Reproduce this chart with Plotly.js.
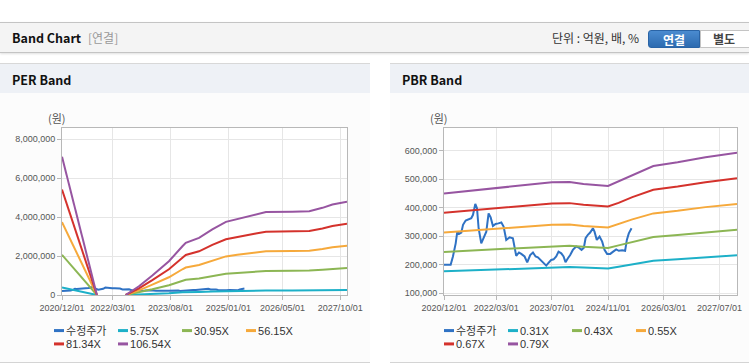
<!DOCTYPE html>
<html><head><meta charset="utf-8">
<script src="https://cdn.plot.ly/plotly-3.0.1.min.js"></script>
<style>
html,body{margin:0;padding:0;}
body{width:749px;height:364px;background:#fff;position:relative;overflow:hidden;font-family:"Noto Sans CJK KR","Noto Sans",sans-serif;}
.hdr{position:absolute;left:0;top:22px;width:749px;height:29px;background:#f4f4f4;border-top:1px solid #c4c4c4;border-bottom:1px solid #c4c4c4;box-shadow:0 1px 2px rgba(0,0,0,0.12);}
.hdr .t{position:absolute;left:12px;top:0;line-height:29px;font-size:12.5px;font-weight:bold;color:#111;}
.hdr .s{position:absolute;left:88px;top:0;line-height:29px;font-size:12px;color:#999;}
.hdr .u{position:absolute;left:552px;top:0;line-height:29px;font-size:12px;color:#333;}
.btn1{position:absolute;left:648px;top:7px;width:52px;height:18px;line-height:18px;text-align:center;font-size:12px;font-weight:bold;color:#fff;background:linear-gradient(#4a8bd0,#2d6bb0);border:1px solid #2a64a6;border-radius:3px 0 0 3px;box-sizing:border-box;}
.btn2{position:absolute;left:700px;top:7px;width:52px;height:18px;line-height:16px;text-align:center;font-size:12px;font-weight:bold;color:#444;background:#fff;border:1px solid #c4c4c4;box-sizing:border-box;padding-right:4px;}
.panel{position:absolute;top:63px;height:298px;background:#fcfcfc;border-top:1px solid #d8d8d8;border-bottom:1px solid #d4d4d4;}
.panel .bar{position:absolute;left:0;top:0;width:100%;height:29px;background:#eef1f6;}
.panel .bar span{position:absolute;left:12px;top:0;line-height:31px;font-size:12.5px;font-weight:bold;color:#111;}
.chart{position:absolute;top:95px;height:267px;}
</style>
</head><body>
<div class="hdr"><span class="t">Band Chart</span><span class="s">[연결]</span><span class="u">단위 : 억원, 배, %</span>
<div class="btn1">연결</div><div class="btn2">별도</div></div>
<div class="panel" style="left:0;width:370px;"><div class="bar"><span>PER Band</span></div></div>
<div class="panel" style="left:390px;width:359px;"><div class="bar"><span>PBR Band</span></div></div>
<div id="per" class="chart" style="left:0;width:370px;"></div>
<div id="pbr" class="chart" style="left:390px;width:359px;"></div>
<script>
// ---------- data ----------
const priceName = '수정주가';
const priceDates = ['2020-12-01','2021-01-28','2021-02-17','2021-03-13','2021-03-27','2021-04-11','2021-05-01','2021-05-16','2021-06-08','2021-06-28',
 '2021-07-27','2021-08-11','2021-08-31','2021-09-15','2021-09-29','2021-10-22','2021-11-12','2021-12-05','2021-12-25','2022-01-12',
 '2022-02-01','2022-02-24','2022-03-20','2022-04-15','2022-05-05','2022-05-28','2022-06-26','2022-07-25','2022-08-23','2022-09-16',
 '2022-10-06','2022-11-04','2022-11-27','2022-12-23','2023-01-16','2023-02-08','2023-02-28','2023-03-23','2023-04-13','2023-05-12',
 '2023-06-04','2023-06-24','2023-07-15','2023-08-07','2023-08-27','2023-09-20','2023-10-10','2023-10-27','2023-11-17','2023-12-07',
 '2023-12-30','2024-01-28','2024-02-21','2024-03-15','2024-04-04','2024-04-19','2024-05-09','2024-05-29','2024-06-22','2024-07-06',
 '2024-07-26','2024-08-19','2024-09-11','2024-10-01','2024-10-24','2024-11-20','2024-12-13','2025-01-11','2025-02-03','2025-03-04',
 '2025-03-30','2025-04-14','2025-05-01','2025-05-25'];
const priceValues = [200000,200000,229000,275000,316000,308000,313000,340000,355000,359000,
 363000,375000,413000,398000,328000,275000,293000,316000,380000,366000,
 336000,343000,345000,348000,334000,287000,296000,293000,231000,243000,
 238000,229000,208000,234000,243000,229000,226000,217000,209000,197000,
 208000,217000,219000,229000,246000,240000,229000,209000,223000,234000,
 252000,264000,260000,252000,260000,293000,305000,313000,328000,316000,
 287000,299000,281000,252000,238000,238000,245000,254000,249000,251000,
 249000,287000,310000,328000];

const perNames = ['5.75X','30.95X','56.15X','81.34X','106.54X'];
const perDates = ['2020-12-01','2021-10-10','2022-02-01','2022-06-25','2022-10-22','2023-02-19','2023-07-18','2023-11-16','2023-12-16','2024-04-13',
 '2024-08-10','2024-12-10','2025-03-22','2025-09-04','2025-12-04','2026-07-28','2026-12-28','2027-04-25','2027-07-23','2027-12-01'];
const per575   = [380000,0,null,0,20000,50000,90000,140000,140000,160000,180000,200000,210000,220000,230000,230000,230000,240000,250000,260000];
const per3095  = [2060000,0,null,0,130000,290000,500000,730000,780000,850000,980000,1090000,1130000,1200000,1230000,1240000,1250000,1300000,1350000,1390000];
const per5615  = [3740000,0,null,0,240000,530000,910000,1320000,1410000,1540000,1770000,1980000,2060000,2180000,2240000,2250000,2270000,2360000,2450000,2520000];
const per8134  = [5410000,0,null,0,340000,760000,1320000,1910000,2050000,2240000,2570000,2860000,2980000,3150000,3240000,3260000,3280000,3410000,3540000,3650000];
const per10654 = [7090000,0,null,0,450000,1000000,1730000,2500000,2680000,2930000,3360000,3750000,3900000,4130000,4250000,4270000,4300000,4470000,4640000,4780000];

const pbrNames = ['0.31X','0.43X','0.55X','0.67X','0.79X'];
const pbrDates = ['2020-12-01','2022-03-01','2023-07-01','2023-12-01','2024-04-01','2024-11-01','2025-02-01','2025-06-01','2025-12-01','2026-07-01','2027-03-01','2027-12-01'];
const pbr031 = [177000,184000,192000,192000,190000,187000,193000,202000,214000,219000,226000,233000];
const pbr043 = [245000,255000,266000,267000,263000,259000,268000,280000,297000,304000,314000,323000];
const pbr055 = [313000,326000,340000,341000,336000,331000,343000,359000,380000,389000,402000,413000];
const pbr067 = [382000,398000,415000,416000,410000,404000,417000,437000,463000,474000,489000,503000];
const pbr079 = [450000,469000,489000,490000,483000,476000,492000,515000,546000,559000,577000,593000];

const perTickVals = ['2020-12-01','2022-03-01','2023-08-01','2025-01-01','2026-05-01','2027-10-01'];
const perTickText = ['2020/12/01','2022/03/01','2023/08/01','2025/01/01','2026/05/01','2027/10/01'];
const pbrTickVals = ['2020-12-01','2022-03-01','2023-07-01','2024-11-01','2026-03-01','2027-07-01'];
const pbrTickText = ['2020/12/01','2022/03/01','2023/07/01','2024/11/01','2026/03/01','2027/07/01'];
const perYTicks = [0,2000000,4000000,6000000,8000000];
const pbrYTicks = [100000,200000,300000,400000,500000,600000];
const unitLabel = '(원)';

// ---------- styling ----------
const colors = ['#2f72c4','#1db0c8','#8cb654','#f6a93b','#d4322c','#9755a1'];
const tickFont = {family:'"Liberation Sans", Arial, sans-serif', size:9, color:'#555'};
const legFont = {family:'"Liberation Sans", Arial, "Noto Sans CJK KR", sans-serif', size:11, color:'#333'};

function tr(x, y, name, color, legend){
  return {type:'scatter', mode:'lines', x:x, y:y, name:name, legend:legend,
    line:{color:color, width:2}, connectgaps:false, hoverinfo:'skip'};
}
function legendCfg(x, y){
  return {orientation:'h', xref:'container', yref:'container', x:x, xanchor:'left', y:y, yanchor:'top',
    entrywidth:19, font:legFont, bgcolor:'rgba(0,0,0,0)', traceorder:'normal', itemclick:false};
}
function layoutFor(margin, yrange, xtv, xtt, ytv, lx){
  return {
    margin:margin, paper_bgcolor:'#fcfcfc', plot_bgcolor:'#fff', showlegend:true,
    xaxis:{type:'date', range:['2020-12-01','2027-12-01'], tickvals:xtv, ticktext:xtt, tickfont:tickFont,
      showgrid:true, gridcolor:'#e6e6e6', showline:true, mirror:true, linecolor:'#b8b8b8', linewidth:1,
      ticks:'outside', ticklen:4, tickcolor:'#b8b8b8', zeroline:false, fixedrange:true},
    yaxis:{range:yrange, tickvals:ytv, tickformat:',d', tickfont:tickFont,
      showgrid:true, gridcolor:'#e6e6e6', showline:true, mirror:true, linecolor:'#b8b8b8', linewidth:1,
      ticks:'outside', ticklen:4, tickcolor:'#b8b8b8', zeroline:false, fixedrange:true},
    legend:legendCfg(lx, 0.172), legend2:legendCfg(lx, 0.122),
    annotations:[{text:unitLabel, xref:'paper', yref:'paper', x:-0.017, y:1.06, xanchor:'center', yanchor:'middle',
      showarrow:false, font:{family:'"Noto Sans CJK KR", sans-serif', size:11, color:'#555'}}]
  };
}
function fixLegend(gd){
  gd.querySelectorAll('.infolayer *').forEach(e=>{ if(e.hasAttribute('clip-path')) e.removeAttribute('clip-path'); });
  gd.querySelectorAll('.legendlines path').forEach(p=>{p.setAttribute('d','M28,0h10'); p.style.strokeWidth='3px';});
}

const perData = [
  tr(priceDates, priceValues, priceName, colors[0], 'legend'),
  tr(perDates, per575, perNames[0], colors[1], 'legend'),
  tr(perDates, per3095, perNames[1], colors[2], 'legend'),
  tr(perDates, per5615, perNames[2], colors[3], 'legend'),
  tr(perDates, per8134, perNames[3], colors[4], 'legend2'),
  tr(perDates, per10654, perNames[4], colors[5], 'legend2')
];
const pbrData = [
  tr(priceDates, priceValues, priceName, colors[0], 'legend'),
  tr(pbrDates, pbr031, pbrNames[0], colors[1], 'legend'),
  tr(pbrDates, pbr043, pbrNames[1], colors[2], 'legend'),
  tr(pbrDates, pbr055, pbrNames[2], colors[3], 'legend'),
  tr(pbrDates, pbr067, pbrNames[3], colors[4], 'legend2'),
  tr(pbrDates, pbr079, pbrNames[4], colors[5], 'legend2')
];
const cfg = {staticPlot:true, displayModeBar:false};
Plotly.newPlot('per', perData, layoutFor({l:62,r:23,t:33,b:67}, [0,8564000], perTickVals, perTickText, perYTicks, 0.0703), cfg).then(fixLegend);
Plotly.newPlot('pbr', pbrData, layoutFor({l:54,r:12,t:33,b:67}, [94000,679300], pbrTickVals, pbrTickText, pbrYTicks, 0.0724), cfg).then(fixLegend);
</script>
</body></html>
